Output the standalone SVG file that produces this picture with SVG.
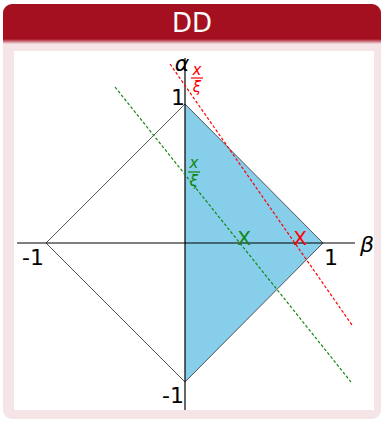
<svg xmlns="http://www.w3.org/2000/svg" width="383" height="421" viewBox="0 0 383 421">
<defs>
<linearGradient id="hg" x1="0" y1="0" x2="0" y2="1">
<stop offset="0" stop-color="#a51020"/>
<stop offset="1" stop-color="#f5e5e6"/>
</linearGradient>
</defs>
<style>
.axis{stroke:#000;stroke-width:1.2;fill:none}
.edge{stroke:#444;stroke-width:0.9;fill:none}
.lbl{font-family:"DejaVu Sans",sans-serif;font-size:22px;fill:#000}
.red{stroke:#ff0000;stroke-width:1.2;stroke-dasharray:3,2;fill:none}
.grn{stroke:#118811;stroke-width:1.2;stroke-dasharray:3,2;fill:none}
</style>
<g id="frame">
<rect x="3" y="4" width="378" height="415" rx="9" fill="#f5e5e6"/>
<path d="M3,40 V13 A9,9 0 0 1 12,4 H372 A9,9 0 0 1 381,13 V40 Z" fill="#a51020"/>
<rect x="3" y="39" width="378" height="5" fill="url(#hg)"/>
<text x="192" y="32" text-anchor="middle" font-family="DejaVu Sans,sans-serif" font-size="26" fill="#fff">DD</text>
<rect x="14" y="51" width="360" height="359" fill="#fff"/>
</g>
<g id="region">
<polygon points="185,104 323,243 185,382" fill="#87ceeb"/>
</g>
<g id="diamond">
<polygon class="edge" points="46,243 185,104 323,243 185,382"/>
</g>
<g id="connectors">
<line class="axis" x1="17" y1="243" x2="355" y2="243"/>
<line class="axis" x1="185" y1="58" x2="185" y2="410"/>
<line class="red" x1="170" y1="64" x2="352" y2="325"/>
<line class="grn" x1="115" y1="87" x2="351" y2="382"/>
</g>
<g id="labels">
<text class="lbl" x="182" y="71" text-anchor="middle" font-style="italic" font-size="23">α</text>
<text class="lbl" x="178" y="105" text-anchor="middle">1</text>
<text class="lbl" x="331" y="265" text-anchor="middle">1</text>
<text class="lbl" x="33" y="265" text-anchor="middle">-1</text>
<text class="lbl" x="173" y="403" text-anchor="middle">-1</text>
<text class="lbl" x="367" y="252" text-anchor="middle" font-style="italic" font-size="24">β</text>
<text x="244" y="245" text-anchor="middle" font-family="DejaVu Sans,sans-serif" font-size="20" fill="#118811">X</text>
<text x="300" y="245" text-anchor="middle" font-family="DejaVu Sans,sans-serif" font-size="20" fill="#ff0000">X</text>
<g fill="#ff0000" font-family="DejaVu Sans,sans-serif" font-size="15" font-style="italic" text-anchor="middle">
<text x="197" y="75">x</text>
<line x1="191" y1="78" x2="203" y2="78" stroke="#ff0000" stroke-width="1.2"/>
<text x="197" y="92">ξ</text>
</g>
<g fill="#118811" font-family="DejaVu Sans,sans-serif" font-size="15" font-style="italic" text-anchor="middle">
<text x="194" y="168">x</text>
<line x1="188" y1="172" x2="200" y2="172" stroke="#118811" stroke-width="1.2"/>
<text x="194" y="186">ξ</text>
</g>
</g>
</svg>
